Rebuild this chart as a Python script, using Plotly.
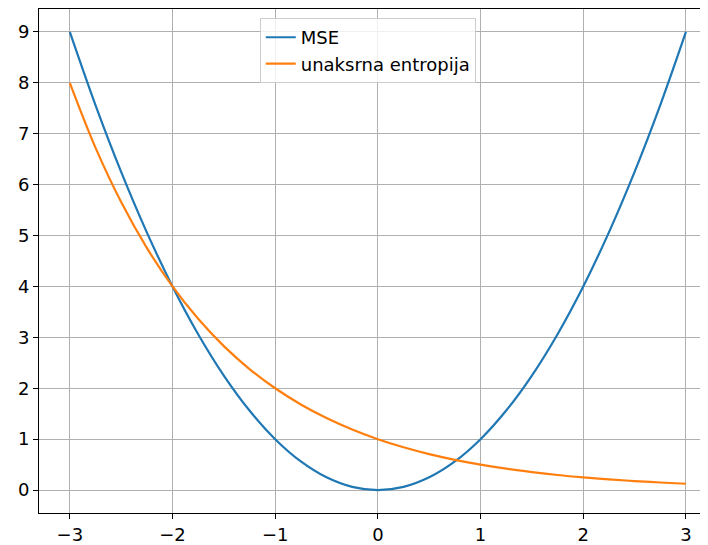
import plotly.graph_objects as go

x_vals = [-3, -2.75, -2.5, -2.25, -2, -1.75, -1.5, -1.25, -1, -0.75, -0.5, -0.25, 0,
          0.25, 0.5, 0.75, 1, 1.25, 1.5, 1.75, 2, 2.25, 2.5, 2.75, 3]
mse_vals = [9, 7.5625, 6.25, 5.0625, 4, 3.0625, 2.25, 1.5625, 1, 0.5625, 0.25, 0.0625, 0,
            0.0625, 0.25, 0.5625, 1, 1.5625, 2.25, 3.0625, 4, 5.0625, 6.25, 7.5625, 9]
ce_vals = [8, 6.727, 5.657, 4.757, 4, 3.364, 2.828, 2.378, 2, 1.682, 1.414, 1.189, 1,
           0.841, 0.707, 0.595, 0.5, 0.420, 0.354, 0.297, 0.25, 0.210, 0.177, 0.149, 0.125]

x_ticks = [-3, -2, -1, 0, 1, 2, 3]
x_tick_labels = ["\u22123", "\u22122", "\u22121", "0", "1", "2", "3"]
y_ticks = [0, 1, 2, 3, 4, 5, 6, 7, 8, 9]
y_tick_labels = [str(v) for v in y_ticks]

fig = go.Figure()
fig.add_trace(go.Scatter(x=x_vals, y=mse_vals, mode="lines", name="MSE",
                         line=dict(color="#1f77b4", width=2.2, shape="spline")))
fig.add_trace(go.Scatter(x=x_vals, y=ce_vals, mode="lines", name="unaksrna entropija",
                         line=dict(color="#ff7f0e", width=2.2, shape="spline")))

font = dict(family="DejaVu Sans", size=18, color="#000000")
fig.update_layout(
    width=700, height=537,
    margin=dict(l=31, r=0, t=1, b=32, autoexpand=False),
    paper_bgcolor="white", plot_bgcolor="white",
    font=font,
    showlegend=True,
    legend=dict(x=0.33, y=0.982, xanchor="left", yanchor="top",
                bgcolor="rgba(255,255,255,0.8)", bordercolor="#cccccc", borderwidth=1,
                entrywidth=200, entrywidthmode="pixels",
                font=dict(family="DejaVu Sans", size=18, color="#000000")),
)
fig.update_xaxes(range=[-3.3, 3.215], tickvals=x_ticks, ticktext=x_tick_labels,
                 showgrid=True, gridcolor="#b0b0b0", gridwidth=1, automargin=False,
                 showline=True, linecolor="#000000", linewidth=1, mirror=True,
                 ticks="outside", ticklen=5, tickcolor="#000000", zeroline=False,
                 tickfont=font)
fig.update_yaxes(range=[-0.45, 9.45], tickvals=y_ticks, ticktext=y_tick_labels,
                 showgrid=True, gridcolor="#b0b0b0", gridwidth=1, automargin=False,
                 showline=True, linecolor="#000000", linewidth=1, mirror=False,
                 ticks="outside", ticklen=5, tickcolor="#000000", zeroline=False,
                 tickfont=font)

fig.write_html("out.html")
